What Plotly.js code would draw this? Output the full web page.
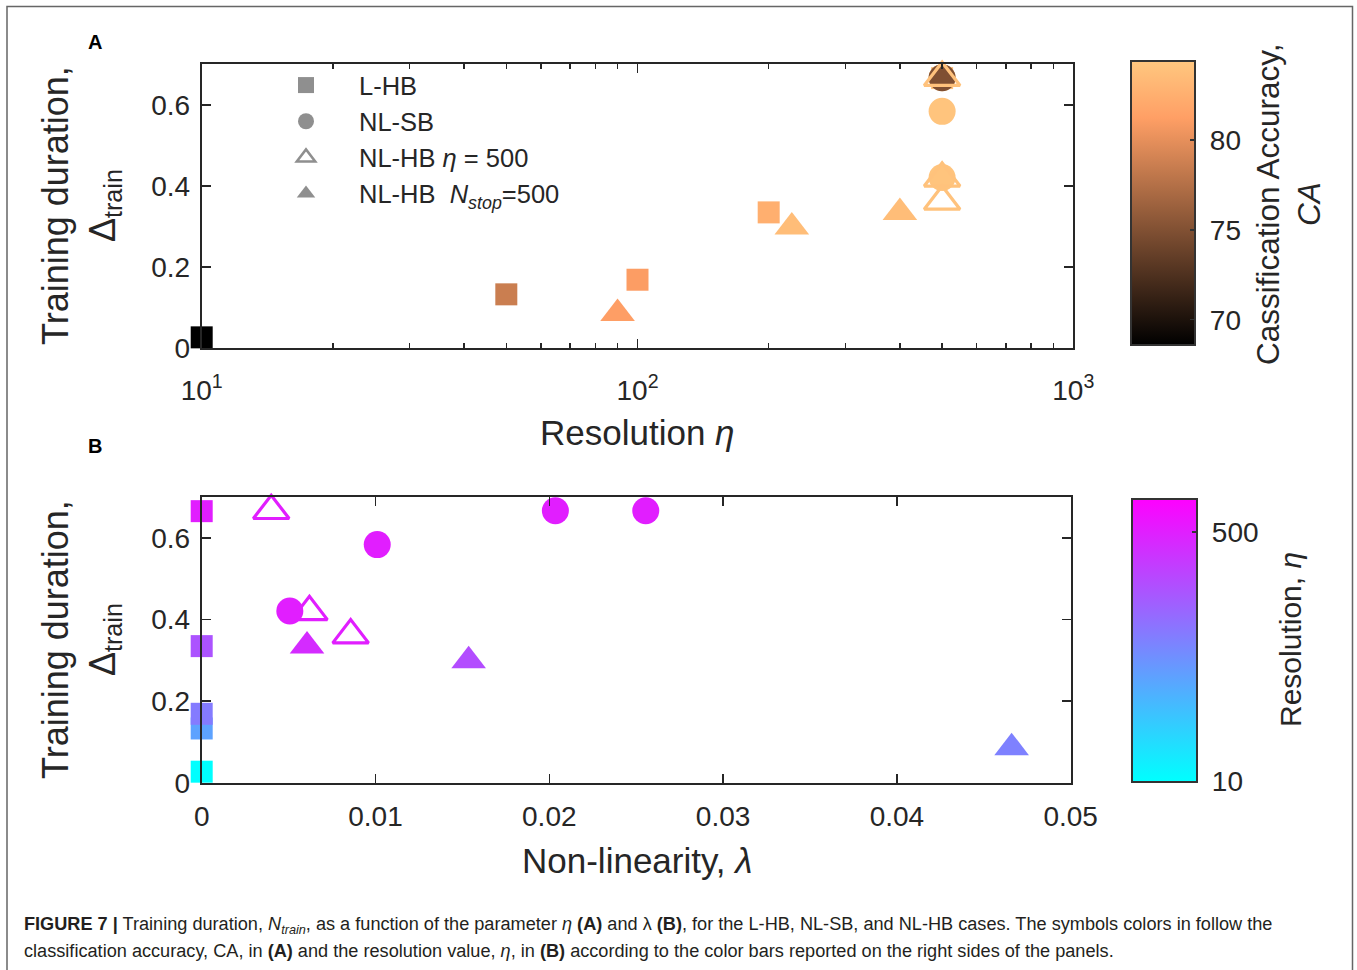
<!DOCTYPE html>
<html>
<head>
<meta charset="utf-8">
<script src="https://cdn.plot.ly/plotly-3.0.1.min.js"></script>
<style>
html,body{margin:0;padding:0;background:#fff;}
#chart{width:1357px;height:970px;}
</style>
</head>
<body>
<div id="chart"></div>
<script>
// ---------- data ----------
// L-HB (squares)
const lhbEta    = [10, 50, 100, 200, 500];
const lhbLambda = [0, 0, 0, 0, 0];
const lhbDelta  = [0.027, 0.133, 0.169, 0.335, 0.666];
const lhbCA     = [68.6, 78.6, 81.1, 82.5, 84.0];

// NL-SB (circles)
const nlsbEta    = [500, 500, 500, 500];
const nlsbLambda = [0.00507, 0.0101, 0.02035, 0.02555];
const nlsbDelta  = [0.421, 0.584, 0.667, 0.667];
const nlsbCA     = [84.2, 84.2, 84.2, 74.9];

// NL-HB eta = 500 (open triangles)
const nlhbEtaEta    = [500, 500, 500];
const nlhbEtaLambda = [0.0040, 0.0062, 0.00857];
const nlhbEtaDelta  = [0.667, 0.419, 0.362];
const nlhbEtaCA     = [84.0, 84.0, 84.0];

// NL-HB Nstop = 500 (filled triangles)
const nlhbNEta    = [400, 226, 90];
const nlhbNLambda = [0.00606, 0.01536, 0.0466];
const nlhbNDelta  = [0.335, 0.299, 0.086];
const nlhbNCA     = [83.6, 83.6, 81.2];

// tick labels
const xTicksA = [10, 100, 1000];
const xTickTextA = ['10<sup>1</sup>', '10<sup>2</sup>', '10<sup>3</sup>'];
const caTicks = [70, 75, 80];
const etaTicks = [10, 500];

// ---------- helpers ----------
const W = 1357, H = 970;
const px = x => x / W;
const py = y => 1 - y / H;
const FONT = 'Liberation Sans, Arial, Helvetica, sans-serif';
const INK = '#262626';
const NB = '\u00a0';

const copper = [[0, 'rgb(0,0,0)'], [0.8, 'rgb(255,159,101)'], [1, 'rgb(255,199,127)']];
const cool = [[0, 'rgb(0,255,255)'], [1, 'rgb(255,0,255)']];

const log10 = v => Math.log10(v);

function mk(x, y, c, symbol, size, xa, ya, cax, open) {
  return {
    type: 'scatter', mode: 'markers', x: x, y: y,
    xaxis: xa, yaxis: ya, showlegend: false, cliponaxis: false, hoverinfo: 'x+y',
    marker: {
      symbol: symbol, size: size, color: c, coloraxis: cax,
      line: open ? {width: 3.2} : {width: 0}
    }
  };
}

const traces = [
  // panel A
  mk(lhbEta, lhbDelta, lhbCA, 'square', 22, 'x', 'y', 'coloraxis', false),
  mk(nlsbEta, nlsbDelta, nlsbCA, 'circle', 27, 'x', 'y', 'coloraxis', false),
  mk(nlhbNEta, nlhbNDelta, nlhbNCA, 'triangle-up', 30, 'x', 'y', 'coloraxis', false),
  mk(nlhbEtaEta, nlhbEtaDelta, nlhbEtaCA, 'triangle-up-open', 31, 'x', 'y', 'coloraxis', true),
  // panel B
  mk(lhbLambda, lhbDelta, lhbEta.map(log10), 'square', 22, 'x2', 'y2', 'coloraxis2', false),
  mk(nlsbLambda, nlsbDelta, nlsbEta.map(log10), 'circle', 27, 'x2', 'y2', 'coloraxis2', false),
  mk(nlhbNLambda, nlhbNDelta, nlhbNEta.map(log10), 'triangle-up', 30, 'x2', 'y2', 'coloraxis2', false),
  mk(nlhbEtaLambda, nlhbEtaDelta, nlhbEtaEta.map(log10), 'triangle-up-open', 31, 'x2', 'y2', 'coloraxis2', true)
];

// legend-only traces (grey symbols)
const legendItems = [
  {name: 'L-HB', symbol: 'square', open: false},
  {name: 'NL-SB', symbol: 'circle', open: false},
  {name: 'NL-HB <i>η</i> = 500', symbol: 'triangle-up-open', open: true},
  {name: 'NL-HB  <i>N</i><sub><i>stop</i></sub>=500', symbol: 'triangle-up', open: false}
];
legendItems.forEach(it => {
  traces.push({
    type: 'scatter', mode: 'markers', x: [null], y: [null], xaxis: 'x', yaxis: 'y',
    name: it.name, showlegend: true, hoverinfo: 'skip',
    marker: {symbol: it.symbol, size: 16, color: '#8f8f8f', line: it.open ? {width: 2.5, color: '#8f8f8f'} : {width: 0}}
  });
});

const axisCommon = {
  showline: true, linecolor: INK, linewidth: 2, mirror: 'ticks',
  ticks: 'inside', ticklen: 9, tickwidth: 1.5, tickcolor: INK,
  showgrid: false, zeroline: false,
  tickfont: {family: FONT, size: 28, color: INK}
};

const tickFontCB = {family: FONT, size: 28, color: INK};

function ann(text, x, y, size, extra) {
  return Object.assign({
    text: text, x: px(x), y: py(y), xref: 'paper', yref: 'paper', showarrow: false,
    xanchor: 'center', yanchor: 'middle', font: {family: FONT, size: size, color: INK}
  }, extra || {});
}

const layout = {
  width: W, height: H,
  margin: {l: 0, r: 0, t: 0, b: 0, autoexpand: false},
  paper_bgcolor: '#fff', plot_bgcolor: '#fff',
  font: {family: FONT, color: INK},
  showlegend: true,
  legend: {
    x: px(253), y: py(62), xanchor: 'left', yanchor: 'top',
    bgcolor: 'rgba(0,0,0,0)', borderwidth: 0,
    font: {family: FONT, size: 25.5, color: INK},
    itemwidth: 96, tracegroupgap: 0
  },
  xaxis: Object.assign({}, axisCommon, {
    type: 'log', range: [1, 3], domain: [px(201.7), px(1073.3)], anchor: 'y',
    tickmode: 'array', tickvals: xTicksA, ticktext: xTickTextA, ticklabelstandoff: 16,
    minor: {ticks: 'inside', ticklen: 5, tickwidth: 1.5, tickcolor: INK, dtick: 'D1', showgrid: false}
  }),
  yaxis: Object.assign({}, axisCommon, {
    range: [0, 0.7], domain: [py(348.3), py(64.3)], anchor: 'x',
    tickvals: [0, 0.2, 0.4, 0.6], ticktext: ['0', '0.2', '0.4', '0.6'], ticklabelstandoff: 4
  }),
  xaxis2: Object.assign({}, axisCommon, {
    range: [0, 0.05], domain: [px(201.7), px(1070.7)], anchor: 'y2',
    tickvals: [0, 0.01, 0.02, 0.03, 0.04, 0.05],
    ticktext: ['0', '0.01', '0.02', '0.03', '0.04', '0.05'], ticklabelstandoff: 8
  }),
  yaxis2: Object.assign({}, axisCommon, {
    range: [0, 0.7], domain: [py(782.7), py(497.3)], anchor: 'x2',
    tickvals: [0, 0.2, 0.4, 0.6], ticktext: ['0', '0.2', '0.4', '0.6'], ticklabelstandoff: 4
  }),
  coloraxis: {
    colorscale: copper, cmin: 68.6, cmax: 84.4, showscale: true,
    colorbar: {
      x: px(1130.7), xanchor: 'left', xpad: 0, ypad: 0,
      y: py((60.7 + 345) / 2), yanchor: 'middle',
      len: (345 - 60.7) / H, lenmode: 'fraction', thickness: 64,
      outlinewidth: 2, outlinecolor: '#333',
      ticks: 'inside', ticklen: 6, tickwidth: 1.5, tickcolor: '#333',
      tickmode: 'array', tickvals: caTicks, ticktext: caTicks.map(v => NB + v),
      tickfont: tickFontCB
    }
  },
  coloraxis2: {
    colorscale: cool, cmin: 1, cmax: 2.926, showscale: true,
    colorbar: {
      x: px(1132.3), xanchor: 'left', xpad: 0, ypad: 0,
      y: py((498.3 + 781.7) / 2), yanchor: 'middle',
      len: (781.7 - 498.3) / H, lenmode: 'fraction', thickness: 65,
      outlinewidth: 2, outlinecolor: '#333',
      ticks: 'inside', ticklen: 6, tickwidth: 1.5, tickcolor: '#333',
      tickmode: 'array', tickvals: etaTicks.map(log10), ticktext: etaTicks.map(v => NB + v),
      tickfont: tickFontCB
    }
  },
  shapes: [
    {type: 'rect', xref: 'paper', yref: 'paper', x0: px(7), x1: px(1352.5), y0: py(975), y1: py(6.5),
     line: {color: '#666', width: 1.5}, fillcolor: 'rgba(0,0,0,0)', layer: 'below'}
  ],
  annotations: [
    ann('<b>A</b>', 95, 42, 20, {font: {family: FONT, size: 20, color: '#000'}}),
    ann('<b>B</b>', 95, 446, 20, {font: {family: FONT, size: 20, color: '#000'}}),
    ann('Resolution <i>η</i>', 637, 433, 35),
    ann('Non-linearity, <i>λ</i>', 637, 860, 35),
    ann('Training duration,<br>Δ<sub>train</sub>', 81, 206, 36, {textangle: -90}),
    ann('Training duration,<br>Δ<sub>train</sub>', 81, 640, 36, {textangle: -90}),
    ann('Cassification Accuracy,<br><i>CA</i>', 1288, 204, 31.5, {textangle: -90}),
    ann('Resolution, <i>η</i>', 1290, 640, 30, {textangle: -90}),
    ann('<b>FIGURE 7 |</b> Training duration, <i>N<sub>train</sub></i>, as a function of the parameter <i>η</i> <b>(A)</b> and λ <b>(B)</b>, for the L-HB, NL-SB, and NL-HB cases. The symbols colors in follow the',
        22, 925, 18.15, {xanchor: 'left', align: 'left', font: {family: FONT, size: 18.15, color: '#231f20'}}),
    ann('classification accuracy, CA, in <b>(A)</b> and the resolution value, <i>η</i>, in <b>(B)</b> according to the color bars reported on the right sides of the panels.',
        22, 951, 18.15, {xanchor: 'left', align: 'left', font: {family: FONT, size: 18.15, color: '#231f20'}})
  ]
};

Plotly.newPlot('chart', traces, layout, {displayModeBar: false, staticPlot: true});
</script>
</body>
</html>
